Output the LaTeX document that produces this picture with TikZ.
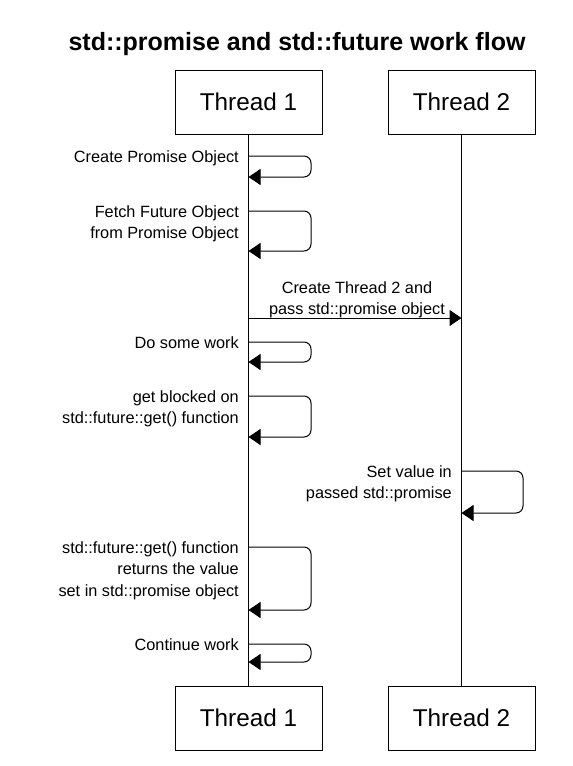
\documentclass[tikz,border=0pt]{standalone}
\usepackage{fontspec}
\setmainfont{Liberation Sans}
\usetikzlibrary{arrows.meta}
\begin{document}
\begin{tikzpicture}[x=1pt,y=-1pt,
  threadbox/.style={draw, line width=1pt, minimum width=147pt, minimum height=64pt, inner sep=0pt, font=\fontsize{24.3}{28}\selectfont},
  lifeline/.style={line width=1pt},
  selfloop/.style={line width=1pt, rounded corners=7pt, -{Triangle[length=12pt,width=16pt]}},
  msgline/.style={line width=1pt, -{Triangle[length=12pt,width=16pt]}},
  lbl/.style={inner sep=0pt, align=right, font=\fontsize{16.3}{21.5}\selectfont},
  clbl/.style={inner sep=0pt, align=center, font=\fontsize{16.3}{21.5}\selectfont}]
\useasboundingbox[fill=white] (0,0) rectangle (573,766);
\node[font=\fontsize{25}{30}\selectfont\bfseries] (title) at (297,44) {std::promise and std::future work flow};
\node[threadbox] (t1top) at (248.5,102) {Thread 1};
\node[threadbox] (t2top) at (461.5,102) {Thread 2};
\node[threadbox] (t1bot) at (248.5,718) {Thread 1};
\node[threadbox] (t2bot) at (461.5,718) {Thread 2};
\draw[lifeline] (t1top.south) -- (t1bot.north);
\draw[lifeline] (t2top.south) -- (t2bot.north);
% 1
\coordinate (a1) at (248.5,156); \coordinate (b1) at (248.5,177);
\draw[selfloop] (a1) -- (311,156) |- (b1);
\node[lbl,anchor=north east] (l1) at (239,150) {Create Promise Object};
% 2
\coordinate (a2) at (248.5,211); \coordinate (b2) at (248.5,251);
\draw[selfloop] (a2) -- (311,211) |- (b2);
\node[lbl,anchor=north east] (l2) at (239,205) {Fetch Future Object\\from Promise Object};
% 3 message
\coordinate (m1) at (248.5,318); \coordinate (m2) at (461.5,318);
\draw[msgline] (m1) -- (m2);
\node[clbl,anchor=north] (l3) at (357,281) {Create Thread 2 and\\pass std::promise object};
% 4
\coordinate (a4) at (248.5,342); \coordinate (b4) at (248.5,362);
\draw[selfloop] (a4) -- (311,342) |- (b4);
\node[lbl,anchor=north east] (l4) at (239,336) {Do some work};
% 5
\coordinate (a5) at (248.5,396); \coordinate (b5) at (248.5,437);
\draw[selfloop] (a5) -- (311,396) |- (b5);
\node[lbl,anchor=north east] (l5) at (239,390) {get blocked on\\std::future::get() function};
% 6 (thread 2)
\coordinate (a6) at (461.5,471); \coordinate (b6) at (461.5,513);
\draw[selfloop] (a6) -- (523,471) |- (b6);
\node[lbl,anchor=north east] (l6) at (452,465) {Set value in\\passed std::promise};
% 7
\coordinate (a7) at (248.5,547); \coordinate (b7) at (248.5,610);
\draw[selfloop] (a7) -- (311,547) |- (b7);
\node[lbl,anchor=north east] (l7) at (239,541) {std::future::get() function\\returns the value\hspace*{0.35em}\\set in std::promise object};
% 8
\coordinate (a8) at (248.5,644); \coordinate (b8) at (248.5,662);
\draw[selfloop] (a8) -- (311,644) |- (b8);
\node[lbl,anchor=north east] (l8) at (239,638) {Continue work};
\end{tikzpicture}
\end{document}
